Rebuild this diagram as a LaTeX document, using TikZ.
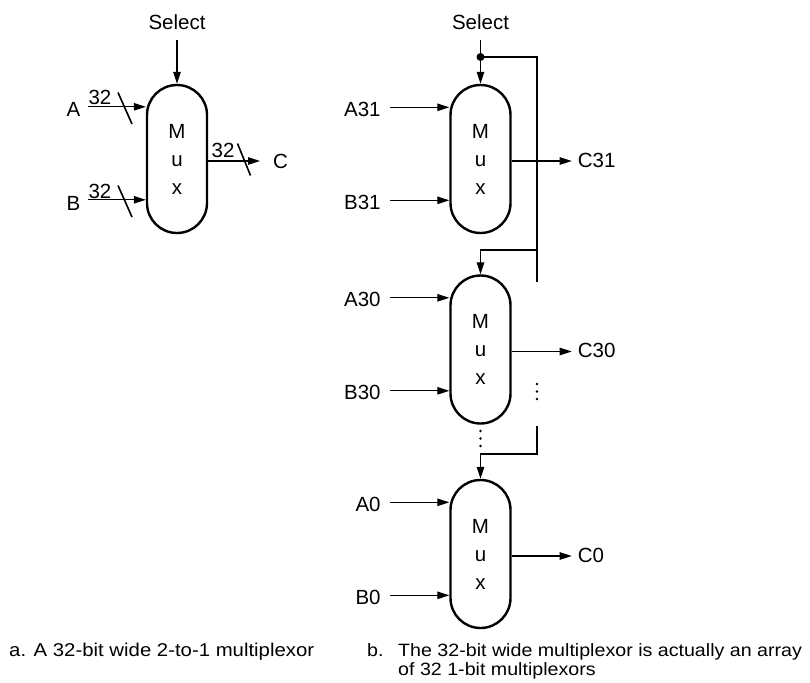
\documentclass[tikz,border=0pt]{standalone}
\usepackage{fontspec}
\setmainfont{Liberation Sans}
\newfontfamily\capfont[FakeStretch=1.1]{Liberation Sans}
\usetikzlibrary{arrows.meta,calc}
\begin{document}
\begin{tikzpicture}[x=1pt,y=-1pt,
  every node/.style={font=\fontsize{20.5}{28}\selectfont, inner sep=0pt},
  mux/.style={draw, line width=2.4pt, rounded corners=30pt, minimum width=60pt, minimum height=148pt, align=center},
  wire/.style={line width=1.1pt},
  arr/.style={wire, -{Triangle[length=12pt,width=7.5pt]}},
  slash/.style={line width=1.6pt},
  lab/.style={anchor=base east},
  outlab/.style={anchor=base west},
  caption/.style={anchor=base west, font=\capfont\fontsize{18.5}{19.5}\selectfont},
  captionb/.style={anchor=base west, font=\capfont\fontsize{17.85}{19.5}\selectfont},
  dotmark/.style={fill}
]
\useasboundingbox (0,0) rectangle (810,682);

% ---------- (a) single 32-bit mux ----------
\node[mux] (L) at (177,159) {M\\u\\x};
\coordinate (La) at ($(L.north west)+(0,23)$);
\coordinate (Lb) at ($(L.north west)+(0,116)$);
\coordinate (Lc) at ($(L.east)+(0,2)$);

\node[anchor=base] (Lsel) at (177,30) {Select};
\draw[arr, shorten <=10pt] (Lsel.south) -- (L.north);

\node[lab] (A) at (80.5,117) {A};
\node[lab] (B) at (80.5,210) {B};
\draw[arr, shorten <=7pt] (A.east |- La) -- (La);
\draw[arr, shorten <=7pt] (B.east |- Lb) -- (Lb);
\node[anchor=base] (wA) at (100,105) {32};
\node[anchor=base] (wB) at (100,198) {32};
\draw[slash] (118,92.5) -- (132,124);
\draw[slash] (118,185.5) -- (132,217);

\node[outlab] (C) at (273,168) {C};
\draw[arr, shorten >=13pt] (Lc) -- (Lc -| C.west);
\node[anchor=base] (wC) at (223,157) {32};
\draw[slash] (237.5,143.5) -- (250.5,175.5);

% ---------- (b) array of 1-bit muxes ----------
\node[mux] (m1) at (480.5,159) {M\\u\\x};
\node[mux] (m2) at (480.5,349.5) {M\\u\\x};
\node[mux] (m3) at (480.5,554) {M\\u\\x};

\node[anchor=base] (Rsel) at (480.5,30) {Select};
\coordinate (sel) at (480.5,57);
\coordinate (c1) at (537,57);
\coordinate (c2) at (537,250);
\coordinate (c3) at (537,282);
\coordinate (c4) at (537,426);
\coordinate (c5) at (537,454);
\draw[wire, shorten <=10pt] (Rsel.south) -- (sel);
\fill (sel) circle (4);
\draw[arr] (sel) -- (m1.north);
\draw[wire] (sel) -- (c1) -- (c3);
\draw[arr] (c2) -- (c2 -| m2.north) -- (m2.north);
\draw[arr] (c4) -- (c5) -- (c5 -| m3.north) -- (m3.north);
\foreach \y in {384,391.5,399} \fill[dotmark] (537,\y) circle (1.3);
\foreach \y in {431,438.5,446} \fill[dotmark] (480.5,\y) circle (1.3);

\foreach \m/\i in {m1/31, m2/30, m3/0} {
  \coordinate (\m a) at ($(\m.north west)+(0,23.5)$);
  \coordinate (\m b) at ($(\m.north west)+(0,116.5)$);
  \coordinate (\m c) at ($(\m.east)+(0,2)$);
  \node[lab] (A\i) at ($(\m a)+(-68.5,9)$) {A\i};
  \node[lab] (B\i) at ($(\m b)+(-68.5,9)$) {B\i};
  \node[outlab] (C\i) at ($(\m c)+(66,6)$) {C\i};
  \draw[arr, shorten <=9pt] (A\i.east |- \m a) -- (\m a);
  \draw[arr, shorten <=9pt] (B\i.east |- \m b) -- (\m b);
  \draw[arr, shorten >=6pt] (\m c) -- (\m c -| C\i.west);
}

% ---------- captions ----------
\node[caption] (capa) at (9,656) {a. A 32-bit wide 2-to-1 multiplexor};
\node[captionb] (capb) at (367,656) {\makebox[31pt][l]{b.}The 32-bit wide multiplexor is actually an array};
\node[captionb] (capb2) at (398,675) {of 32 1-bit multiplexors};
\end{tikzpicture}
\end{document}
